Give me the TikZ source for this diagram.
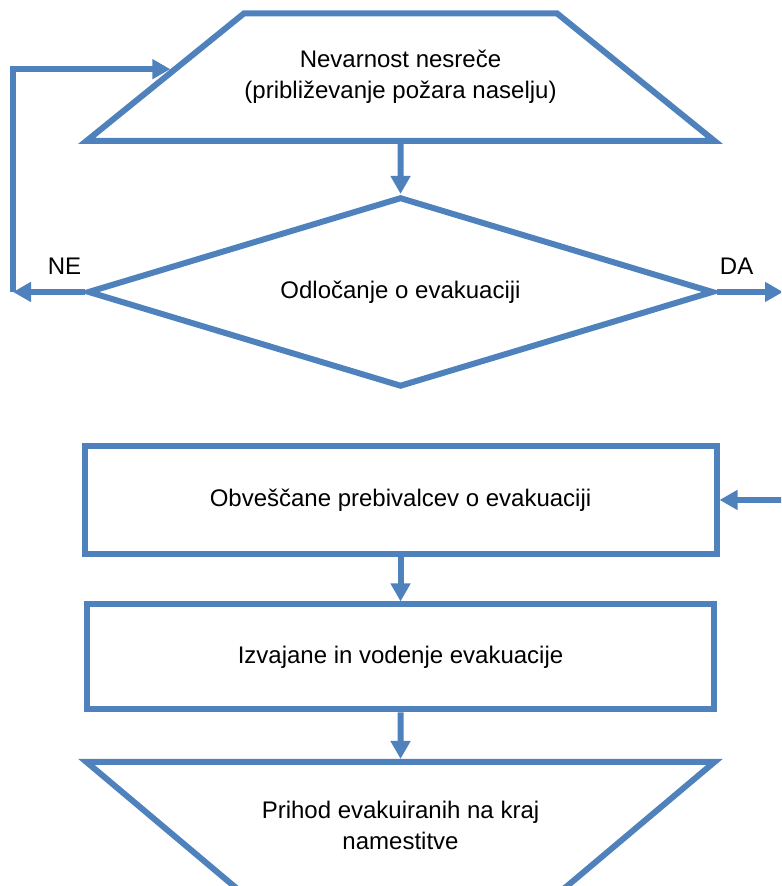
\documentclass[tikz,border=0pt]{standalone}
\usepackage{fontspec}
\setmainfont{Liberation Sans}
\usetikzlibrary{positioning}
\usetikzlibrary{shapes.geometric}
\usetikzlibrary{arrows.meta}
\definecolor{flowblue}{HTML}{4F81BD}
\tikzset{>={Triangle[length=9pt,width=9.5pt]}}
\tikzset{ln/.style={draw=flowblue,line width=3pt}}
\tikzset{lbl/.style={inner sep=0pt,font=\fontsize{12}{15.5}\selectfont}}
\tikzset{fl/.style={ln,lbl,align=center}}
\tikzset{io/.style={fl,trapezium,trapezium left angle=39,trapezium right angle=39,trapezium stretches body=true,inner ysep=18.5pt,minimum width=314pt,minimum height=63.75pt}}
\tikzset{dec/.style={fl,diamond,aspect=3.3,minimum width=313pt,minimum height=95pt}}
\tikzset{act/.style={fl,rectangle,minimum height=54pt}}

\begin{document}
\begin{tikzpicture}
\useasboundingbox (0,0) rectangle (390.5pt,-443pt);
\clip (0,0) rectangle (390.5pt,-443pt);

\node[io] at (200.25pt,-38.6pt) (hazard) {Nevarnost nesreče\\(približevanje požara naselju)};
\node[dec, below=25pt of hazard] (decide) {Odločanje o evakuaciji};
\node[act, minimum width=316pt, below=26.5pt of decide] (inform) {Obveščane prebivalcev o evakuaciji};
\node[act, minimum width=313.5pt, minimum height=52.5pt, below=22.25pt of inform] (guide) {Izvajane in vodenje evakuacije};
\node[io, shape border rotate=180, below=23.25pt of guide] (arrive) {Prihod evakuiranih na kraj\\namestitve};

\coordinate (no) at (6.5pt,0 |- decide.west);
\coordinate (yes) at (391.5pt,0 |- decide.east);
\coordinate (back) at (400pt,0 |- inform.east);

\node[lbl, above left=8.5pt and 1.5pt of decide.west] (nolabel) {NE};
\node[lbl, above right=8.5pt and 1.5pt of decide.east] (yeslabel) {DA};

\draw[ln,->] (hazard) -- (decide);
\draw[ln,->] (decide.west) -- (no);
\draw[ln,->] (no) |- (hazard.178);
\draw[ln,->] (decide.east) -- (yes);
\draw[ln,->] (back) -- (inform.east);
\draw[ln,->] (inform) -- (guide);
\draw[ln,->] (guide) -- (arrive);

\end{tikzpicture}
\end{document}
